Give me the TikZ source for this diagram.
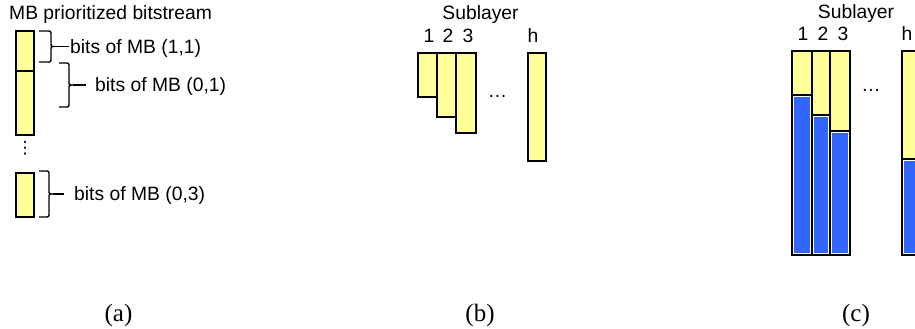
\documentclass[tikz,border=0pt]{standalone}
\usepackage{fontspec}
\setmainfont{Liberation Serif}
\newfontfamily\arialish{Liberation Sans}
\newfontfamily\symfont{DejaVu Sans}
\definecolor{barfill}{HTML}{FFFF99}
\definecolor{lowpart}{HTML}{3366FF}
\tikzset{
  bar/.style={draw=black, line width=1.5pt, fill=barfill},
  outline/.style={draw=black, line width=1.5pt},
  lowbar/.style={fill=lowpart, draw=white, line width=0.8pt},
  lbl/.style={font=\arialish\fontsize{19.3}{21}\selectfont, inner sep=0pt},
  captext/.style={font=\fontsize{25}{27}\selectfont, inner sep=0pt},
  curly/.style={draw=black, line width=1.4pt, line join=round},
  tail/.style={draw=black, line width=1.4pt},
}
\begin{document}
\begin{tikzpicture}[x=1pt,y=-1pt]
\clip (0,0) rectangle (915,329);
\fill[white] (0,0) rectangle (915,329);

% ---------------- (a) prioritized bitstream ----------------
\node[lbl, anchor=base west] (title) at (9,20) {MB prioritized bitstream};
\draw[bar] (16,31) rectangle (34,135);
\draw[outline] (16,71) -- (34,71);
\draw[bar] (16,173) rectangle (34,217);
\node[inner sep=0pt, font=\symfont\fontsize{17}{18}\selectfont] (vd) at (25,148.5) {⋮};

% labels
\node[lbl, anchor=base west] (l1) at (70,53.3) {bits of MB (1,1)};
\node[lbl, anchor=base west] (l2) at (95,91) {bits of MB (0,1)};
\node[lbl, anchor=base west] (l3) at (74,200.5) {bits of MB (0,3)};

% braces
\draw[curly] (39,31) -- (47,31) .. controls (51,31) .. (51,35) -- (51,42.5)
   .. controls (51,46.5) .. (55,46.5) .. controls (51,46.5) .. (51,50.5)
   -- (51,58) .. controls (51,62) .. (47,62) -- (39,62);
\coordinate (t1) at (55,46.5);
\draw[tail, shorten >=1.5pt] (t1) -- (t1 -| l1.west);

\draw[curly] (59,63) -- (65,63) .. controls (69,63) .. (69,67) -- (69,81)
   .. controls (69,85) .. (73,85) .. controls (69,85) .. (69,89)
   -- (69,103) .. controls (69,107) .. (65,107) -- (59,107);
\coordinate (t2) at (73,85);
\draw[tail, shorten >=9pt] (t2) -- (t2 -| l2.west);

\draw[curly] (39,171) -- (45,171) .. controls (49,171) .. (49,175) -- (49,190)
   .. controls (49,194) .. (53,194) .. controls (49,194) .. (49,198)
   -- (49,213) .. controls (49,217) .. (45,217) -- (39,217);
\coordinate (t3) at (53,194);
\draw[tail, shorten >=10pt] (t3) -- (t3 -| l3.west);

% ---------------- (b) sublayers ----------------
\node[lbl, anchor=base] (subb) at (480.5,20) {Sublayer};
\node[lbl, anchor=base] (b1) at (429,42.5) {1};
\node[lbl, anchor=base] (b2) at (448,42.5) {2};
\node[lbl, anchor=base] (b3) at (468,42.5) {3};
\node[lbl, anchor=base] (bh) at (533,42.5) {h};
\draw[bar] (418,53) rectangle (437,97);
\draw[bar] (437,53) rectangle (456,117);
\draw[bar] (456,53) rectangle (476,133);
\draw[bar] (528,53) rectangle (546,161);
\node[lbl, anchor=base] (bdots) at (497.5,97) {\dots};

% ---------------- (c) sublayers with lower part ----------------
\node[lbl, anchor=base] (subc) at (856,19) {Sublayer};
\node[lbl, anchor=base] (c1) at (803,41) {1};
\node[lbl, anchor=base] (c2) at (823,41) {2};
\node[lbl, anchor=base] (c3) at (843,41) {3};
\node[lbl, anchor=base] (ch) at (907,41) {h};
\foreach \xa/\xb/\ys in {792/812/95, 812/830/115, 830/850/131, 902/925/159}{
  \fill[barfill] (\xa,51) rectangle (\xb,255);
  \draw[lowbar] (\xa+1.6,\ys+1.6) rectangle (\xb-1.6,255-1.6);
  \draw[outline] (\xa,\ys) -- (\xb,\ys);
  \draw[outline] (\xa,51) rectangle (\xb,255);
}
\node[lbl, anchor=base] (cdots) at (871,92) {\dots};

% ---------------- captions ----------------
\node[captext, anchor=base] (capa) at (118.5,321) {(a)};
\node[captext, anchor=base] (capb) at (480,321) {(b)};
\node[captext, anchor=base] (capc) at (856,321) {(c)};
\end{tikzpicture}
\end{document}
